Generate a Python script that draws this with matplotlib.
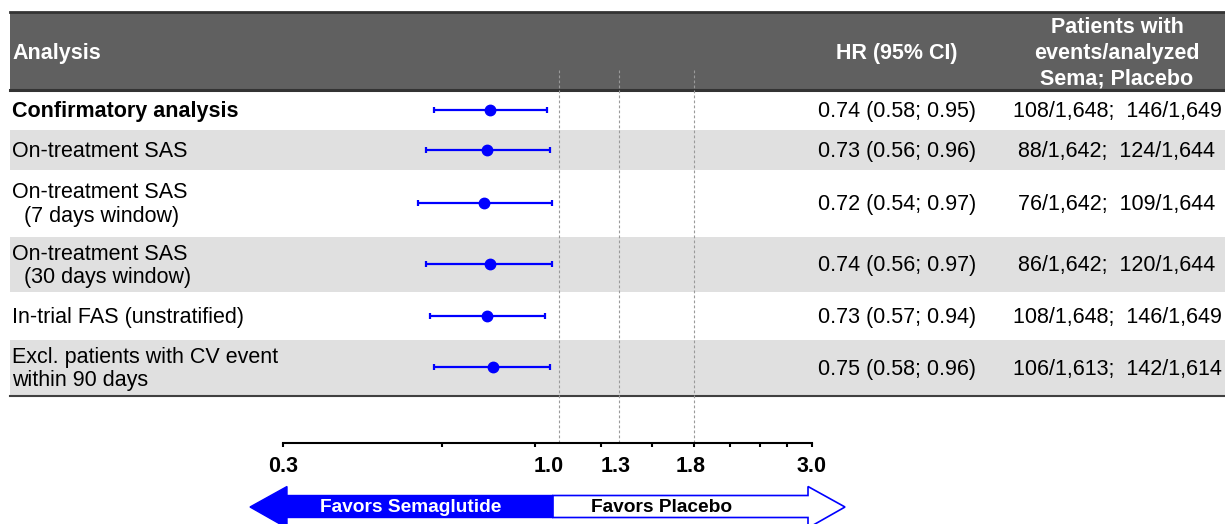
import matplotlib
matplotlib.use('Agg')
import matplotlib.pyplot as plt
from matplotlib.patches import Rectangle, Polygon
from matplotlib.ticker import FixedLocator, NullLocator, NullFormatter
from matplotlib.transforms import blended_transform_factory, offset_copy

plt.rcParams['font.family'] = ['Liberation Sans', 'DejaVu Sans']

# data
labels = ['Confirmatory analysis',
          'On-treatment SAS',
          'On-treatment SAS\n  (7 days window)',
          'On-treatment SAS\n  (30 days window)',
          'In-trial FAS (unstratified)',
          'Excl. patients with CV event\nwithin 90 days']
hr = [0.74, 0.73, 0.72, 0.74, 0.73, 0.75]
ci_low = [0.58, 0.56, 0.54, 0.56, 0.57, 0.58]
ci_high = [0.95, 0.96, 0.97, 0.97, 0.94, 0.96]
sema_events = [108, 88, 76, 86, 108, 106]
sema_n = [1648, 1642, 1642, 1642, 1648, 1613]
plac_events = [146, 124, 109, 120, 146, 142]
plac_n = [1649, 1644, 1644, 1644, 1649, 1614]
ref_lines = [1.0, 1.3, 1.8]
tick_vals = [0.3, 0.6, 0.9, 1.2, 1.5, 1.8, 2.1, 2.4, 2.7, 3.0]
label_vals = [0.3, 1.0, 1.3, 1.8, 3.0]
label_text = ['0.3', '1.0', '1.3', '1.8', '3.0']

# layout (figure pixels, y down)
W, H = 1225, 524
row_edges = [90, 129.5, 170, 236, 292.5, 339.5, 395.5]
row_mid = [(a + b) / 2 for a, b in zip(row_edges[:-1], row_edges[1:])]
axis_y = 443
x_lo, x_hi = 282.7, 811.5
blue = '#0000ff'
fs = 15.5

fig = plt.figure(figsize=(W / 100, H / 100), dpi=100)

bg = fig.add_axes([0, 0, 1, 1])
bg.set_xlim(0, W)
bg.set_ylim(H, 0)
bg.axis('off')

# header
bg.add_patch(Rectangle((10, 12), W - 10, 78, facecolor='#606060', edgecolor='none'))
bg.plot([10, W], [12, 12], color='#333333', lw=2)
bg.plot([10, W], [90, 90], color='#333333', lw=2.2)
bg.text(12, 54, 'Analysis', color='white', fontsize=fs, fontweight='bold', va='center')
bg.text(897, 54, 'HR (95% CI)', color='white', fontsize=fs, fontweight='bold',
        va='center', ha='center')
bg.text(1117, 53, 'Patients with\nevents/analyzed\nSema; Placebo', color='white',
        fontsize=fs, fontweight='bold', va='center', ha='center', linespacing=1.3)

# bands and rows
for i, lab in enumerate(labels):
    top, bot = row_edges[i], row_edges[i + 1]
    if i % 2 == 1:
        bg.add_patch(Rectangle((10, top + 0.5), W - 10, bot - top - 1,
                               facecolor='#e0e0e0', edgecolor='none'))
    y = row_mid[i] + 1.5
    bg.text(12, y, lab, fontsize=fs, va='center', ha='left',
            fontweight='bold' if i == 0 else 'normal', linespacing=1.15)
    bg.text(897, y, f'{hr[i]:.2f} ({ci_low[i]:.2f}; {ci_high[i]:.2f})',
            fontsize=fs, va='center', ha='center')
    bg.text(1117, y,
            f'{sema_events[i]}/{sema_n[i]:,};  {plac_events[i]}/{plac_n[i]:,}',
            fontsize=fs, va='center', ha='center')
bg.plot([10, W], [row_edges[-1], row_edges[-1]], color='#404040', lw=1.5)

# favours arrow
mid = 553
bg.add_patch(Polygon([(250, 507), (287, 486.5), (287, 495.5), (mid, 495.5),
                      (mid, 517.5), (287, 517.5), (287, 528)],
                     closed=True, facecolor=blue, edgecolor=blue, lw=1))
bg.add_patch(Polygon([(mid, 495.5), (808, 495.5), (808, 486.5), (845, 507),
                      (808, 528), (808, 517.5), (mid, 517.5)],
                     closed=True, facecolor='white', edgecolor=blue, lw=1.2))
bg.text(411, 508, 'Favors Semaglutide', color='white', fontsize=13.8,
        fontweight='bold', ha='center', va='center')
bg.text(662, 508, 'Favors Placebo', color='black', fontsize=13.8,
        fontweight='bold', ha='center', va='center')

# forest plot
ax = fig.add_axes([x_lo / W, (H - axis_y) / H, (x_hi - x_lo) / W, axis_y / H])
ax.patch.set_visible(False)
ax.set_xscale('log')
ax.set_xlim(0.3, 3.0)
ax.set_ylim(axis_y, 0)
for s in ['top', 'left', 'right']:
    ax.spines[s].set_visible(False)
ax.spines['bottom'].set_linewidth(1.5)
ax.yaxis.set_visible(False)
ax.xaxis.set_major_locator(FixedLocator(tick_vals))
ax.xaxis.set_minor_locator(NullLocator())
ax.xaxis.set_major_formatter(NullFormatter())
ax.xaxis.set_minor_formatter(NullFormatter())
ax.tick_params(axis='x', direction='out', length=3, width=1.5, color='black')

ax.vlines(ref_lines, 70, axis_y, colors='#9a9a9a', linestyles=(0, (2.5, 2)), lw=0.8)

ax.errorbar(hr, row_mid,
            xerr=[[h - l for h, l in zip(hr, ci_low)], [u - h for h, u in zip(hr, ci_high)]],
            fmt='o', color=blue, ms=7.5, lw=1.6, capsize=2.5, capthick=1.6)

# tick labels (shifted slightly, as in the source)
shifts = [0, -11, -3.5, -4, 0]
trans = blended_transform_factory(ax.transData, ax.transAxes)
label_y = -(466 - axis_y) / axis_y
for v, t, dx in zip(label_vals, label_text, shifts):
    tr = offset_copy(trans, fig=fig, x=dx, y=0, units='dots')
    ax.text(v, label_y, t, transform=tr, ha='center', va='center', fontsize=fs,
            fontweight='bold')

fig.savefig('out.png', dpi=100)
